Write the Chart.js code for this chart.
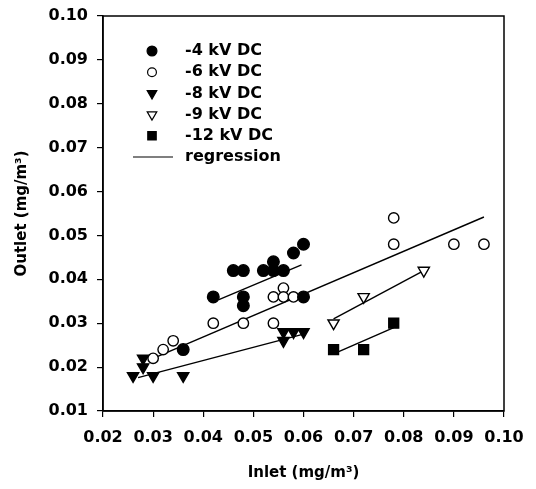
<!DOCTYPE html>
<html>
<head>
<meta charset="utf-8">
<script src="https://cdn.jsdelivr.net/npm/chart.js@4.4.1/dist/chart.umd.min.js"></script>
<style>
  html, body { margin: 0; padding: 0; background: #fff; }
  #wrap { width: 536px; height: 489px; }
</style>
</head>
<body>
<div id="wrap"><canvas id="c" width="536" height="489"></canvas></div>
<script>
// ---- data ----
const xTicks = [0.02, 0.03, 0.04, 0.05, 0.06, 0.07, 0.08, 0.09, 0.10];
const yTicks = [0.01, 0.02, 0.03, 0.04, 0.05, 0.06, 0.07, 0.08, 0.09, 0.10];

const seriesLabels = ['-4 kV DC', '-6 kV DC', '-8 kV DC', '-9 kV DC', '-12 kV DC'];
const regressionLabel = 'regression';

const kv4 = [[0.036,0.024],[0.042,0.036],[0.046,0.042],[0.048,0.042],[0.048,0.036],[0.048,0.034],
             [0.052,0.042],[0.054,0.044],[0.054,0.042],[0.056,0.042],[0.058,0.046],[0.060,0.048],[0.060,0.036]];
const kv6 = [[0.030,0.022],[0.032,0.024],[0.034,0.026],[0.042,0.030],[0.048,0.030],[0.054,0.030],
             [0.054,0.036],[0.056,0.038],[0.056,0.036],[0.058,0.036],[0.078,0.054],[0.078,0.048],
             [0.090,0.048],[0.096,0.048]];
const kv8 = [[0.026,0.018],[0.028,0.022],[0.028,0.020],[0.030,0.018],[0.036,0.018],
             [0.056,0.028],[0.056,0.026],[0.058,0.028],[0.060,0.028]];
const kv9 = [[0.066,0.030],[0.072,0.036],[0.084,0.042]];
const kv12 = [[0.066,0.024],[0.072,0.024],[0.078,0.030]];

const reg4 = [[0.043,0.0353],[0.0596,0.0433]];
const reg6 = [[0.030,0.022],[0.096,0.0542]];
const reg8 = [[0.027,0.0176],[0.060,0.0275]];
const reg9 = [[0.066,0.031],[0.084,0.042]];
const reg12 = [[0.066,0.023],[0.078,0.029]];

// ---- build ----
const toPts = arr => arr.map(p => ({x: p[0], y: p[1]}));
const FONT = "'DejaVu Sans', 'Liberation Sans', Arial, sans-serif";

const markerStyles = [
  {pointStyle: 'circle', radius: 5.8, rotation: 0, fill: '#000'},
  {pointStyle: 'circle', radius: 5.2, rotation: 0, fill: '#fff'},
  {pointStyle: 'triangle', radius: 6.5, rotation: 180, fill: '#000'},
  {pointStyle: 'triangle', radius: 6.5, rotation: 180, fill: '#fff'},
  {pointStyle: 'rect', radius: 7, rotation: 0, fill: '#000'}
];
const pointSets = [kv4, kv6, kv8, kv9, kv12];
const regSets = [reg4, reg6, reg8, reg9, reg12];

const datasets = [];
regSets.forEach((r, i) => {
  datasets.push({
    type: 'line',
    label: regressionLabel,
    data: toPts(r),
    borderColor: '#000',
    borderWidth: 1.4,
    pointRadius: 0,
    fill: false,
    tension: 0,
    order: 2
  });
});
pointSets.forEach((s, i) => {
  const m = markerStyles[i];
  datasets.push({
    type: 'scatter',
    label: seriesLabels[i],
    data: toPts(s),
    pointStyle: m.pointStyle,
    pointRadius: m.radius,
    pointRotation: m.rotation,
    pointBackgroundColor: m.fill,
    pointBorderColor: '#000',
    pointBorderWidth: 1.4,
    order: 1
  });
});

const framePlugin = {
  id: 'frame',
  afterDraw(chart) {
    const {ctx, chartArea: a} = chart;
    ctx.save();
    ctx.strokeStyle = '#000';
    ctx.lineWidth = 1.5;
    ctx.strokeRect(a.left, a.top, a.right - a.left, a.bottom - a.top);
    ctx.restore();

    // legend
    ctx.save();
    const mx = 152, tx = 185, y0 = 51, dy = 21.2;
    ctx.font = "bold 16px " + FONT;
    ctx.textBaseline = 'middle';
    ctx.fillStyle = '#000';
    seriesLabels.forEach((lab, i) => {
      const m = markerStyles[i];
      const y = y0 + i * dy;
      ctx.fillStyle = m.fill;
      ctx.strokeStyle = '#000';
      ctx.lineWidth = 1.2;
      Chart.helpers.drawPoint(ctx, {pointStyle: m.pointStyle, radius: m.radius * 0.85, rotation: m.rotation, borderWidth: 1.2}, mx, y);
      ctx.fillStyle = '#000';
      ctx.fillText(lab, tx, y);
    });
    const yr = y0 + 5 * dy;
    ctx.beginPath();
    ctx.lineWidth = 1.2;
    ctx.moveTo(133, yr); ctx.lineTo(173, yr);
    ctx.stroke();
    ctx.fillText(regressionLabel, tx, yr);
    ctx.restore();
  }
};

new Chart(document.getElementById('c'), {
  data: {datasets},
  options: {
    responsive: false,
    animation: false,
    devicePixelRatio: 1,
    layout: {padding: {left: 0, right: 32, top: 16, bottom: 0}},
    plugins: {legend: {display: false}, tooltip: {enabled: false}},
    scales: {
      x: {
        type: 'linear',
        min: xTicks[0], max: xTicks[xTicks.length - 1],
        afterBuildTicks: s => { s.ticks = xTicks.map(v => ({value: v})); },
        afterFit: s => { s.height = 78; s.paddingLeft = 0; s.paddingRight = 0; },
        ticks: {
          color: '#000', padding: 11,
          font: {family: FONT, size: 16, weight: 'bold'},
          callback: v => Number(v).toFixed(2),
          maxRotation: 0, autoSkip: false
        },
        grid: {drawOnChartArea: false, drawTicks: true, tickLength: 6, color: '#000', lineWidth: 1.2},
        border: {display: true, color: '#000', width: 1.5},
        title: {display: true, text: 'Inlet (mg/m³)', color: '#000',
                font: {family: FONT, size: 15, weight: 'bold'}, padding: {top: 0, bottom: 7}}
      },
      y: {
        type: 'linear',
        min: yTicks[0], max: yTicks[yTicks.length - 1],
        afterBuildTicks: s => { s.ticks = yTicks.map(v => ({value: v})); },
        afterFit: s => { s.width = 103; s.paddingTop = 0; s.paddingBottom = 0; },
        ticks: {
          color: '#000', padding: 9,
          font: {family: FONT, size: 16, weight: 'bold'},
          callback: v => Number(v).toFixed(2),
          autoSkip: false
        },
        grid: {drawOnChartArea: false, drawTicks: true, tickLength: 6, color: '#000', lineWidth: 1.2},
        border: {display: true, color: '#000', width: 1.5},
        title: {display: true, text: 'Outlet (mg/m³)', color: '#000',
                font: {family: FONT, size: 15, weight: 'bold'}, padding: {top: 13, bottom: 0}}
      }
    }
  },
  plugins: [framePlugin]
});
</script>
</body>
</html>
